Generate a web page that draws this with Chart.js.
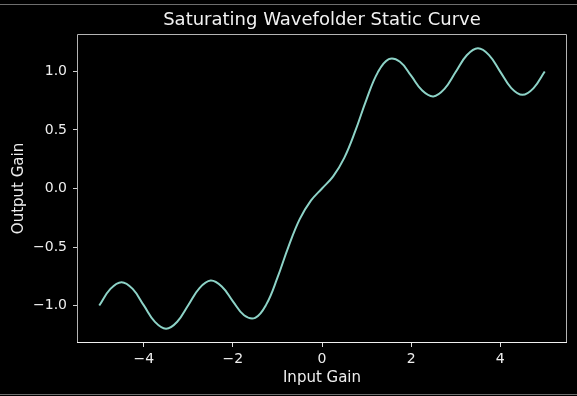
<!DOCTYPE html>
<html>
<head>
<meta charset="utf-8">
<script src="https://cdn.jsdelivr.net/npm/chart.js@4/dist/chart.umd.min.js"></script>
<style>
  html, body { margin: 0; padding: 0; background: #000; }
  #wrap { position: relative; width: 577px; height: 396px; overflow: hidden; }
  #curve { position: absolute; left: 0; top: 0; }
  .rule { position: absolute; left: 0; width: 577px; height: 1px; background: #6e6e6e; }
</style>
</head>
<body>
<div id="wrap">
  <canvas id="curve" width="577" height="396"></canvas>
  <div class="rule" style="top:4px"></div>
  <div class="rule" style="top:394px"></div>
</div>
<script>
// input gain samples
const inputGain = [
  -5, -4.75, -4.5, -4.25, -4, -3.75, -3.5, -3.25, -3, -2.75, -2.5,
  -2.25, -2, -1.75, -1.5, -1.25, -1, -0.75, -0.5, -0.25, 0,
  0.25, 0.5, 0.75, 1, 1.25, 1.5, 1.75, 2, 2.25, 2.5,
  2.75, 3, 3.25, 3.5, 3.75, 4, 4.25, 4.5, 4.75, 5
];
// output gain at each sample
const outputGain = [
  -1.000, -0.858, -0.800, -0.858, -0.999, -1.140, -1.198, -1.138, -0.995, -0.851, -0.787,
  -0.837, -0.964, -1.083, -1.105, -0.990, -0.762, -0.494, -0.262, -0.104, 0.000,
  0.104, 0.262, 0.494, 0.762, 0.990, 1.105, 1.083, 0.964, 0.837, 0.787,
  0.851, 0.995, 1.138, 1.198, 1.140, 0.999, 0.858, 0.800, 0.858, 1.000
];
const xTicks = [-4, -2, 0, 2, 4];
const yTicks = [-1.0, -0.5, 0.0, 0.5, 1.0];

const FONT = 'DejaVu Sans';
const TITLE = 'Saturating Wavefolder Static Curve';
const fmt = (v, d) => (v < 0 ? '\u2212' : '') + Math.abs(v).toFixed(d);

// matplotlib-like box around the plot area, title centred over the axes
const frame = {
  id: 'frame',
  afterDatasetsDraw(chart) {
    const { ctx, chartArea: a } = chart;
    ctx.save();
    ctx.lineWidth = 1;
    ctx.strokeStyle = '#b4b4b4';
    ctx.beginPath();
    ctx.moveTo(a.left + 0.5, a.bottom);
    ctx.lineTo(a.left + 0.5, a.top + 0.5);
    ctx.lineTo(a.right - 0.5, a.top + 0.5);
    ctx.lineTo(a.right - 0.5, a.bottom);
    ctx.stroke();
    ctx.strokeStyle = '#f0f0f0';
    ctx.beginPath();
    ctx.moveTo(a.left, a.bottom - 0.5);
    ctx.lineTo(a.right, a.bottom - 0.5);
    ctx.stroke();

    ctx.fillStyle = '#f2f2f2';
    ctx.font = '18px "' + FONT + '"';
    ctx.textAlign = 'center';
    ctx.textBaseline = 'middle';
    ctx.fillText(TITLE, (a.left + a.right) / 2, 20.5);
    ctx.restore();
  }
};

new Chart(document.getElementById('curve'), {
  type: 'line',
  data: {
    datasets: [{
      data: inputGain.map((x, i) => ({ x: x, y: outputGain[i] })),
      borderColor: '#8dd3c7',
      borderWidth: 2,
      pointRadius: 0,
      tension: 0.4,
      fill: false
    }]
  },
  options: {
    responsive: false,
    animation: false,
    layout: { padding: { left: 0, right: 10, top: 34, bottom: 0 } },
    plugins: {
      legend: { display: false },
      tooltip: { enabled: false },
      title: { display: false }
    },
    scales: {
      x: {
        type: 'linear',
        min: -5.5,
        max: 5.5,
        afterBuildTicks: s => { s.ticks = xTicks.map(v => ({ value: v })); },
        afterFit: s => { s.height = 53; },
        grid: { drawOnChartArea: false, drawTicks: true, tickLength: 4, color: '#e0e0e0' },
        border: { display: false },
        ticks: {
          color: '#eeeeee',
          padding: 4,
          maxRotation: 0,
          font: { family: FONT, size: 14 },
          callback: v => fmt(v, 0)
        },
        title: {
          display: true,
          text: 'Input Gain',
          color: '#eeeeee',
          font: { family: FONT, size: 15, lineHeight: 1.2 },
          padding: { top: 0, bottom: 9 }
        }
      },
      y: {
        min: -1.32,
        max: 1.32,
        afterBuildTicks: s => { s.ticks = yTicks.map(v => ({ value: v })); },
        afterFit: s => { s.width = 77; },
        grid: { drawOnChartArea: false, drawTicks: true, tickLength: 4, color: '#d0d0d0' },
        border: { display: false },
        ticks: {
          color: '#eeeeee',
          padding: 6,
          font: { family: FONT, size: 14 },
          callback: v => fmt(v, 1)
        },
        title: {
          display: true,
          text: 'Output Gain',
          color: '#eeeeee',
          font: { family: FONT, size: 15, lineHeight: 1.2 },
          padding: { top: 10, bottom: 0 }
        }
      }
    }
  },
  plugins: [frame]
});
</script>
</body>
</html>
